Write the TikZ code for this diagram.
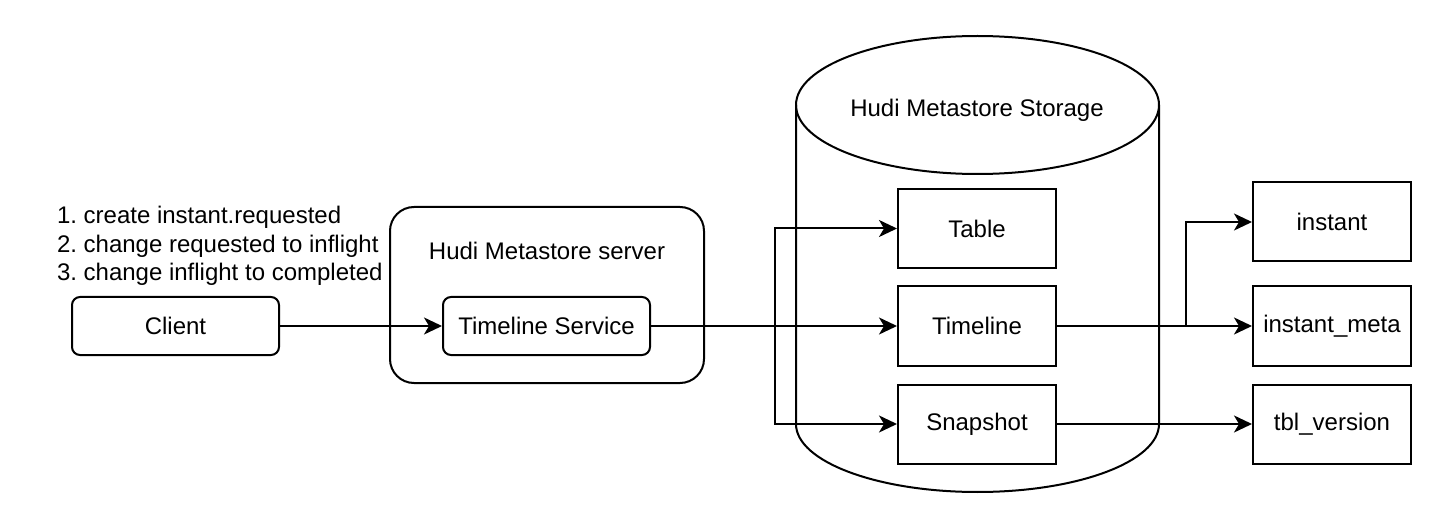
\documentclass[tikz,border=0pt]{standalone}
\usepackage{fontspec}
\setmainfont{Liberation Sans}
\usetikzlibrary{arrows.meta}
\frenchspacing

\tikzset{
  roundbox/.style={shape=rectangle, draw, rounded corners=4pt, minimum width=103.5pt, minimum height=29pt},
  storebox/.style={shape=rectangle, draw, minimum width=79pt, minimum height=39.5pt},
  flow/.style={-{Stealth[length=9pt, width=8.5pt, inset=2.5pt]}},
}

\begin{document}
\begin{tikzpicture}[x=0.5pt, y=-0.5pt, line width=1pt, font=\fontsize{12pt}{14.2pt}\selectfont]
  \useasboundingbox (0, 0) rectangle (1432, 508);
  \node (steps) at (56, 246) [anchor=west, align=left, inner sep=0pt] {1. create instant.requested\\2. change requested to inflight\\3. change inflight to completed};
  \node (client) at (175.5, 326) [roundbox] {Client};
  \node (server) at (547, 295) [shape=rectangle, draw, rounded corners=12pt, minimum width=157pt, minimum height=88pt] {};
  \node (serverlabel) at (547, 251) {Hudi Metastore server};
  \node (tlservice) at (546.5, 326) [roundbox] {Timeline Service};
  \draw (796, 105) -- (796, 424) arc[start angle=180, end angle=0, x radius=181.5, y radius=68] -- (1159, 105);
  \draw (977.5, 105) ellipse [x radius=181.5, y radius=69];
  \node (storagelabel) at (977, 110) {Hudi Metastore Storage};
  \node (table) at (977, 228.5) [storebox] {Table};
  \node (timeline) at (977, 326) [storebox] {Timeline};
  \node (snapshot) at (977, 424) [storebox] {Snapshot};
  \node (instant) at (1332, 222) [storebox] {instant};
  \node (instantmeta) at (1332, 326) [storebox] {instant\_meta};
  \node (tblversion) at (1332, 424) [storebox] {tbl\_version};
  \coordinate (split) at (775, 326);
  \coordinate (rsplit) at (1186, 326);
  \draw[flow] (client) -- (tlservice);
  \draw[flow] (tlservice) -- (timeline);
  \draw[flow] (split) |- (table);
  \draw[flow] (split) |- (snapshot);
  \draw[flow] (timeline) -- (instantmeta);
  \draw[flow] (rsplit) |- (instant);
  \draw[flow] (snapshot) -- (tblversion);
\end{tikzpicture}
\end{document}
